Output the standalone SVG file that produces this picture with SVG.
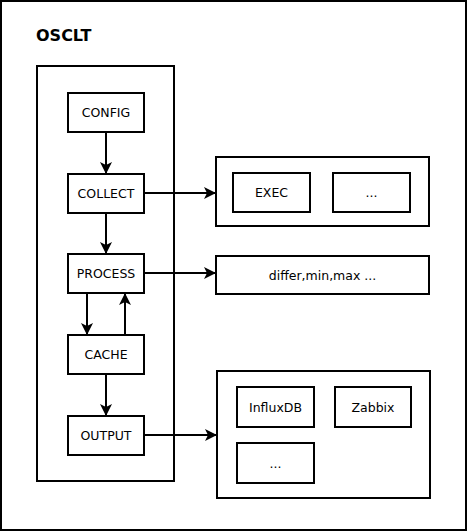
<svg xmlns="http://www.w3.org/2000/svg" width="467" height="531" viewBox="0 0 467 531">
<style>
.b{fill:#fff;stroke:#000;stroke-width:2}
.t{font-family:"DejaVu Sans",sans-serif;font-size:12.5px;fill:#000;text-anchor:middle;dominant-baseline:central}
.c{fill:none;stroke:#000;stroke-width:2}
</style>
<defs>
<marker id="a" markerWidth="12" markerHeight="12" viewBox="0 0 12 12" refX="11" refY="6" orient="auto" markerUnits="userSpaceOnUse">
<path d="M0,0 L12,6 L0,12 L3,6 Z" fill="#000"/>
</marker>
</defs>
<rect x="1" y="1" width="465" height="529" fill="#fff" stroke="#000" stroke-width="2"/>
<text x="36" y="41" font-family="DejaVu Sans,sans-serif" font-size="16" font-weight="bold">OSCLT</text>
<g id="pipeline"><rect class="b" x="37" y="66" width="137" height="415"/></g>
<g id="config"><rect class="b" x="68" y="93" width="76" height="39"/><text class="t" x="106" y="112.5">CONFIG</text></g>
<g id="collect"><rect class="b" x="68" y="174" width="76" height="39"/><text class="t" x="106" y="193.5">COLLECT</text></g>
<g id="process"><rect class="b" x="68" y="254" width="76" height="39"/><text class="t" x="106" y="273.5">PROCESS</text></g>
<g id="cache"><rect class="b" x="68" y="335" width="76" height="39"/><text class="t" x="106" y="354.5">CACHE</text></g>
<g id="output"><rect class="b" x="68" y="416" width="76" height="39"/><text class="t" x="106" y="435.5">OUTPUT</text></g>
<g id="collectors"><rect class="b" x="216" y="157" width="213" height="69"/></g>
<g id="exec"><rect class="b" x="233" y="173" width="77" height="39"/><text class="t" x="271.5" y="192.5">EXEC</text></g>
<g id="collect-more"><rect class="b" x="333" y="173" width="77" height="39"/><text class="t" x="371.5" y="192.5">...</text></g>
<g id="functions"><rect class="b" x="216" y="256" width="213" height="38"/><text class="t" x="322.5" y="275">differ,min,max ...</text></g>
<g id="outputs"><rect class="b" x="217" y="371" width="213" height="127"/></g>
<g id="influxdb"><rect class="b" x="237" y="387" width="77" height="40"/><text class="t" x="275.5" y="407">InfluxDB</text></g>
<g id="zabbix"><rect class="b" x="335" y="387" width="76" height="40"/><text class="t" x="373" y="407">Zabbix</text></g>
<g id="output-more"><rect class="b" x="237" y="443" width="77" height="40"/><text class="t" x="275.5" y="463">...</text></g>
<g id="connectors">
<path class="c" d="M106,132 V173" marker-end="url(#a)"/>
<path class="c" d="M106,213 V253" marker-end="url(#a)"/>
<path class="c" d="M87,293 V334" marker-end="url(#a)"/>
<path class="c" d="M125,335 V294" marker-end="url(#a)"/>
<path class="c" d="M106,374 V415" marker-end="url(#a)"/>
<path class="c" d="M144,193 H215" marker-end="url(#a)"/>
<path class="c" d="M144,273 H215" marker-end="url(#a)"/>
<path class="c" d="M144,435 H216" marker-end="url(#a)"/>
</g>
</svg>
